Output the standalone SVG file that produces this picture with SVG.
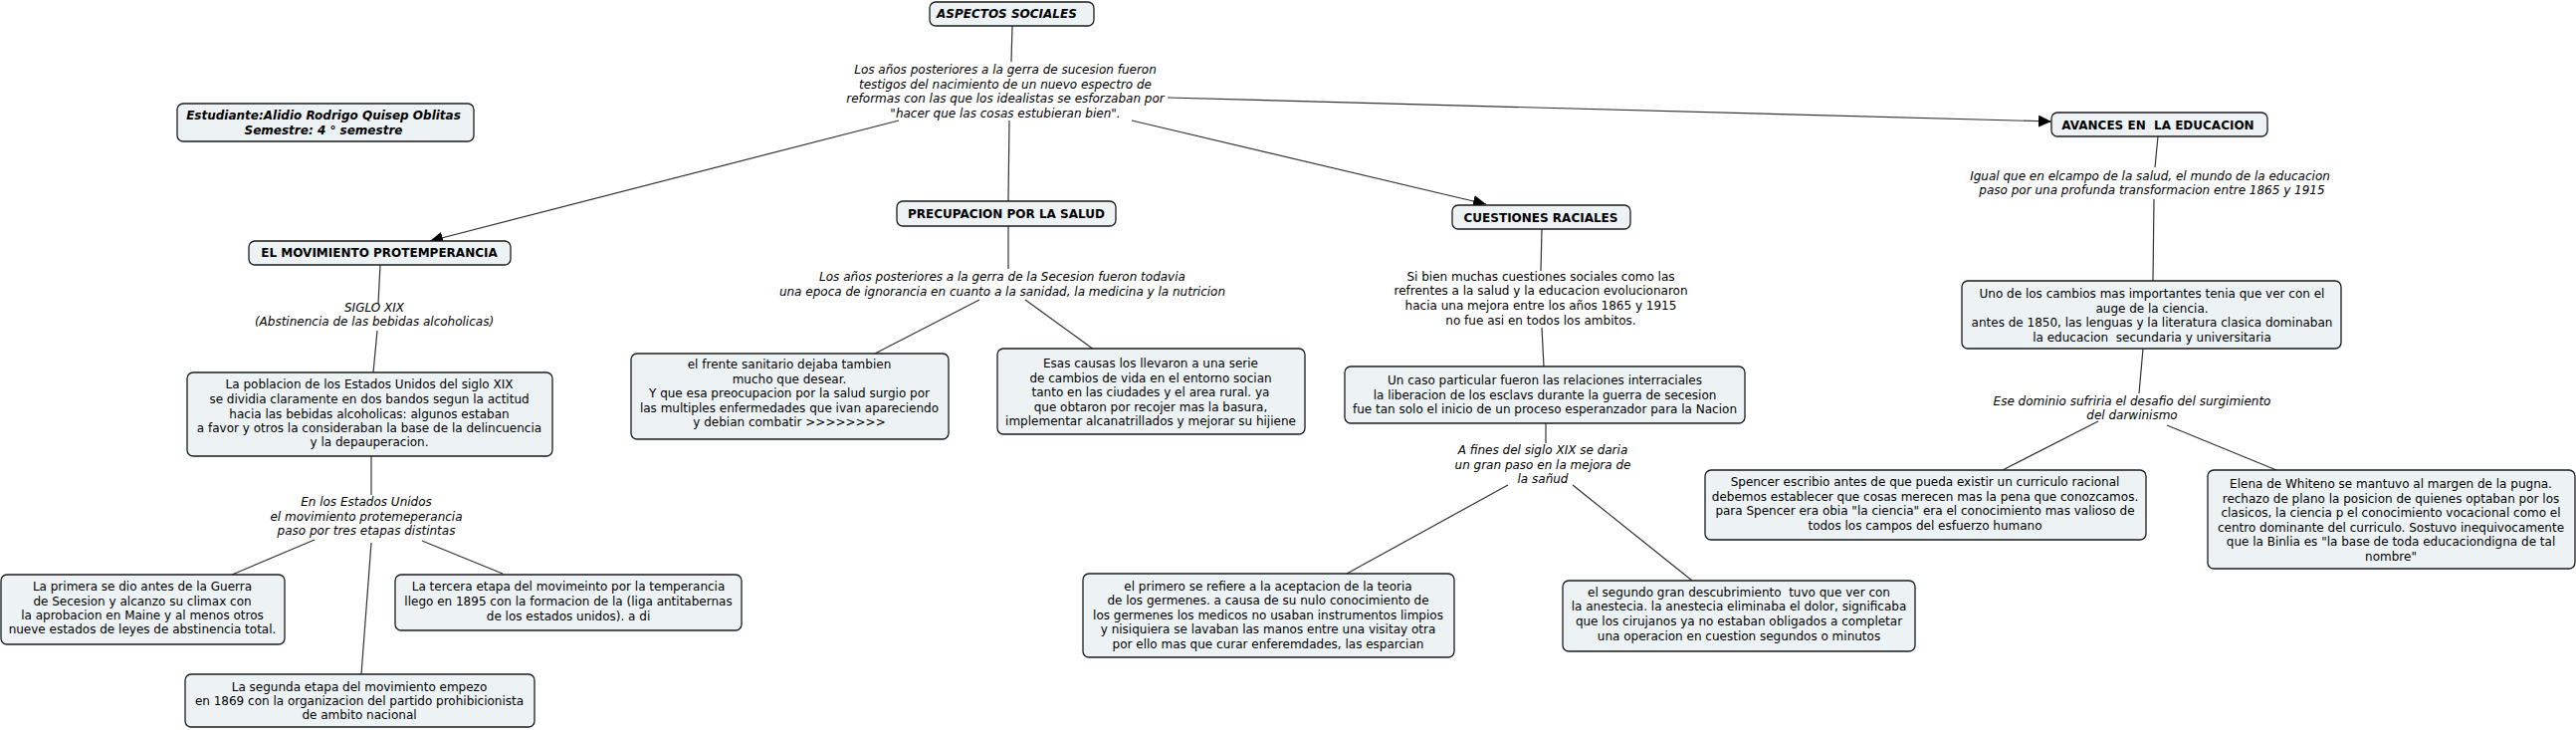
<svg xmlns="http://www.w3.org/2000/svg" width="2588" height="733" viewBox="0 0 2588 733">
<style>
.bg{fill:#ffffff}
.box{fill:#edf3f5;stroke:#1a1a1a;stroke-width:1.3}
.t{font-family:"DejaVu Sans",Verdana,sans-serif;font-size:12px;fill:#000;text-anchor:middle}
.i{font-style:italic}
.b{font-weight:bold}
.c{stroke:#333;stroke-width:1.2;fill:none}
</style>
<defs>
<marker id="arr" markerUnits="userSpaceOnUse" markerWidth="14" markerHeight="12" refX="13" refY="6" orient="auto">
<path d="M0,0 L13,6 L0,12 z" fill="#000"/>
</marker>
</defs>
<rect class="bg" x="0" y="0" width="2588" height="733"/>
<g id="connectors">
<line class="c" x1="1017" y1="26" x2="1016" y2="62"/>
<line class="c" x1="903" y1="121" x2="432" y2="242" marker-end="url(#arr)"/>
<line class="c" x1="1014" y1="121" x2="1013" y2="202"/>
<line class="c" x1="1137" y1="121" x2="1493" y2="205" marker-end="url(#arr)"/>
<line class="c" x1="1173" y1="98" x2="2061" y2="122" marker-end="url(#arr)"/>
<line class="c" x1="382" y1="266" x2="380" y2="305"/>
<line class="c" x1="379" y1="332" x2="375" y2="374"/>
<line class="c" x1="373" y1="458" x2="373" y2="497"/>
<line class="c" x1="316" y1="542" x2="233" y2="577"/>
<line class="c" x1="373" y1="545" x2="363" y2="677"/>
<line class="c" x1="424" y1="543" x2="505" y2="576"/>
<line class="c" x1="1013" y1="227" x2="1013" y2="270"/>
<line class="c" x1="984" y1="301" x2="879" y2="355"/>
<line class="c" x1="1030" y1="301" x2="1099" y2="351"/>
<line class="c" x1="1549" y1="230" x2="1548" y2="272"/>
<line class="c" x1="1549" y1="329" x2="1551" y2="368"/>
<line class="c" x1="1553" y1="425" x2="1553" y2="445"/>
<line class="c" x1="1515" y1="487" x2="1353" y2="576"/>
<line class="c" x1="1580" y1="487" x2="1700" y2="583"/>
<line class="c" x1="2168" y1="137" x2="2165" y2="168"/>
<line class="c" x1="2164" y1="200" x2="2163" y2="282"/>
<line class="c" x1="2153" y1="350" x2="2149" y2="395"/>
<line class="c" x1="2108" y1="423" x2="2012" y2="472"/>
<line class="c" x1="2177" y1="427" x2="2287" y2="472"/>
</g>
<g id="aspectos">
<rect class="box" x="934" y="2" width="165" height="24" rx="6"/>
<text class="t b i" x="941" y="18" style="text-anchor:start">ASPECTOS SOCIALES</text>
</g>
<g id="link-top">
<text class="t i"><tspan x="1010" y="74">Los años posteriores a la gerra de sucesion fueron</tspan><tspan x="1010" y="88.5">testigos del nacimiento de un nuevo espectro de</tspan><tspan x="1010" y="103">reformas con las que los idealistas se esforzaban por</tspan><tspan x="1010" y="117.5">"hacer que las cosas estubieran bien".</tspan></text>
</g>
<g id="estudiante">
<rect class="box" x="178" y="104" width="298" height="38" rx="6"/>
<text class="t b i"><tspan x="325" y="120">Estudiante:Alidio Rodrigo Quisep Oblitas</tspan><tspan x="325" y="134.5">Semestre: 4 ° semestre</tspan></text>
</g>
<g id="movimiento">
<rect class="box" x="250" y="242" width="263" height="24" rx="6"/>
<text class="t b" x="381" y="257.5">EL MOVIMIENTO PROTEMPERANCIA</text>
</g>
<g id="link-siglo">
<text class="t i"><tspan x="376" y="313">SIGLO XIX</tspan><tspan x="376" y="327">(Abstinencia de las bebidas alcoholicas)</tspan></text>
</g>
<g id="poblacion">
<rect class="box" x="188" y="374" width="367" height="84" rx="6"/>
<text class="t"><tspan x="371" y="390">La poblacion de los Estados Unidos del siglo XIX</tspan><tspan x="371" y="405">se dividia claramente en dos bandos segun la actitud</tspan><tspan x="371" y="420">hacia las bebidas alcoholicas: algunos estaban</tspan><tspan x="371" y="434">a favor y otros la consideraban la base de la delincuencia</tspan><tspan x="371" y="448">y la depauperacion.</tspan></text>
</g>
<g id="link-etapas">
<text class="t i"><tspan x="368" y="508">En los Estados Unidos</tspan><tspan x="368" y="522.5">el movimiento protemeperancia</tspan><tspan x="368" y="537">paso por tres etapas distintas</tspan></text>
</g>
<g id="primera">
<rect class="box" x="1" y="577" width="285" height="70" rx="6"/>
<text class="t"><tspan x="143" y="593">La primera se dio antes de la Guerra</tspan><tspan x="143" y="608">de Secesion y alcanzo su climax con</tspan><tspan x="143" y="622">la aprobacion en Maine y al menos otros</tspan><tspan x="143" y="636">nueve estados de leyes de abstinencia total.</tspan></text>
</g>
<g id="tercera">
<rect class="box" x="397" y="577" width="348" height="56" rx="6"/>
<text class="t"><tspan x="571" y="593">La tercera etapa del movimeinto por la temperancia</tspan><tspan x="571" y="608">llego en 1895 con la formacion de la (liga antitabernas</tspan><tspan x="571" y="622.5">de los estados unidos). a di</tspan></text>
</g>
<g id="segunda">
<rect class="box" x="186" y="677" width="351" height="53" rx="6"/>
<text class="t"><tspan x="361" y="694">La segunda etapa del movimiento empezo</tspan><tspan x="361" y="708">en 1869 con la organizacion del partido prohibicionista</tspan><tspan x="361" y="722">de ambito nacional</tspan></text>
</g>
<g id="salud">
<rect class="box" x="901" y="202" width="220" height="25" rx="6"/>
<text class="t b" x="1011" y="218.5">PRECUPACION POR LA SALUD</text>
</g>
<g id="link-salud">
<text class="t i"><tspan x="1007" y="281.5">Los años posteriores a la gerra de la Secesion fueron todavia</tspan><tspan x="1007" y="296.5">una epoca de ignorancia en cuanto a la sanidad, la medicina y la nutricion</tspan></text>
</g>
<g id="frente">
<rect class="box" x="634" y="355" width="319" height="86" rx="6"/>
<text class="t"><tspan x="793" y="370">el frente sanitario dejaba tambien</tspan><tspan x="793" y="384.5">mucho que desear.</tspan><tspan x="793" y="399">Y que esa preocupacion por la salud surgio por</tspan><tspan x="793" y="413.5">las multiples enfermedades que ivan apareciendo</tspan><tspan x="793" y="428">y debian combatir &gt;&gt;&gt;&gt;&gt;&gt;&gt;&gt;</tspan></text>
</g>
<g id="causas">
<rect class="box" x="1002" y="350" width="309" height="86" rx="6"/>
<text class="t"><tspan x="1156" y="369">Esas causas los llevaron a una serie</tspan><tspan x="1156" y="383.5">de cambios de vida en el entorno socian</tspan><tspan x="1156" y="398">tanto en las ciudades y el area rural. ya</tspan><tspan x="1156" y="412.5">que obtaron por recojer mas la basura,</tspan><tspan x="1156" y="427">implementar alcanatrillados y mejorar su hijiene</tspan></text>
</g>
<g id="raciales">
<rect class="box" x="1459" y="206" width="179" height="24" rx="6"/>
<text class="t b" x="1548" y="222.5">CUESTIONES RACIALES</text>
</g>
<g id="link-sibien">
<text class="t"><tspan x="1548" y="281.5">Si bien muchas cuestiones sociales como las</tspan><tspan x="1548" y="296">refrentes a la salud y la educacion evolucionaron</tspan><tspan x="1548" y="311">hacia una mejora entre los años 1865 y 1915</tspan><tspan x="1548" y="326">no fue asi en todos los ambitos.</tspan></text>
</g>
<g id="caso">
<rect class="box" x="1351" y="368" width="402" height="57" rx="6"/>
<text class="t"><tspan x="1552" y="386">Un caso particular fueron las relaciones interraciales</tspan><tspan x="1552" y="401">la liberacion de los esclavs durante la guerra de secesion</tspan><tspan x="1552" y="415">fue tan solo el inicio de un proceso esperanzador para la Nacion</tspan></text>
</g>
<g id="link-fines">
<text class="t i"><tspan x="1550" y="455.5">A fines del siglo XIX se daria</tspan><tspan x="1550" y="470.5">un gran paso en la mejora de</tspan><tspan x="1550" y="485">la sañud</tspan></text>
</g>
<g id="primero">
<rect class="box" x="1088" y="576" width="373" height="84" rx="6"/>
<text class="t"><tspan x="1274" y="592.5">el primero se refiere a la aceptacion de la teoria</tspan><tspan x="1274" y="607">de los germenes. a causa de su nulo conocimiento de</tspan><tspan x="1274" y="621.5">los germenes los medicos no usaban instrumentos limpios</tspan><tspan x="1274" y="636">y nisiquiera se lavaban las manos entre una visitay otra</tspan><tspan x="1274" y="650.5">por ello mas que curar enferemdades, las esparcian</tspan></text>
</g>
<g id="segundo">
<rect class="box" x="1570" y="583" width="354" height="71" rx="6"/>
<text class="t" xml:space="preserve"><tspan x="1747" y="599">el segundo gran descubrimiento  tuvo que ver con</tspan><tspan x="1747" y="613">la anestecia. la anestecia eliminaba el dolor, significaba</tspan><tspan x="1747" y="628">que los cirujanos ya no estaban obligados a completar</tspan><tspan x="1747" y="642.5">una operacion en cuestion segundos o minutos</tspan></text>
</g>
<g id="educacion">
<rect class="box" x="2061" y="113" width="217" height="24" rx="6"/>
<text class="t b" x="2168" y="129.5" xml:space="preserve">AVANCES EN  LA EDUCACION</text>
</g>
<g id="link-igual">
<text class="t i"><tspan x="2160" y="181">Igual que en elcampo de la salud, el mundo de la educacion</tspan><tspan x="2162" y="195">paso por una profunda transformacion entre 1865 y 1915</tspan></text>
</g>
<g id="cambios">
<rect class="box" x="1971" y="282" width="381" height="68" rx="6"/>
<text class="t" xml:space="preserve"><tspan x="2162" y="299">Uno de los cambios mas importantes tenia que ver con el</tspan><tspan x="2162" y="313.5">auge de la ciencia.</tspan><tspan x="2162" y="328">antes de 1850, las lenguas y la literatura clasica dominaban</tspan><tspan x="2162" y="342.5">la educacion  secundaria y universitaria</tspan></text>
</g>
<g id="link-dominio">
<text class="t i"><tspan x="2142" y="407">Ese dominio sufriria el desafio del surgimiento</tspan><tspan x="2142" y="421">del darwinismo</tspan></text>
</g>
<g id="spencer">
<rect class="box" x="1713" y="472" width="443" height="70" rx="6"/>
<text class="t"><tspan x="1934" y="488">Spencer escribio antes de que pueda existir un curriculo racional</tspan><tspan x="1934" y="502.5">debemos establecer que cosas merecen mas la pena que conozcamos.</tspan><tspan x="1934" y="517">para Spencer era obia "la ciencia" era el conocimiento mas valioso de</tspan><tspan x="1934" y="531.5">todos los campos del esfuerzo humano</tspan></text>
</g>
<g id="elena">
<rect class="box" x="2218" y="472" width="369" height="99" rx="6"/>
<text class="t"><tspan x="2402" y="490">Elena de Whiteno se mantuvo al margen de la pugna.</tspan><tspan x="2402" y="504.5">rechazo de plano la posicion de quienes optaban por los</tspan><tspan x="2402" y="519">clasicos, la ciencia p el conocimiento vocacional como el</tspan><tspan x="2402" y="533.5">centro dominante del curriculo. Sostuvo inequivocamente</tspan><tspan x="2402" y="548">que la Binlia es "la base de toda educaciondigna de tal</tspan><tspan x="2402" y="562.5">nombre"</tspan></text>
</g>
</svg>
